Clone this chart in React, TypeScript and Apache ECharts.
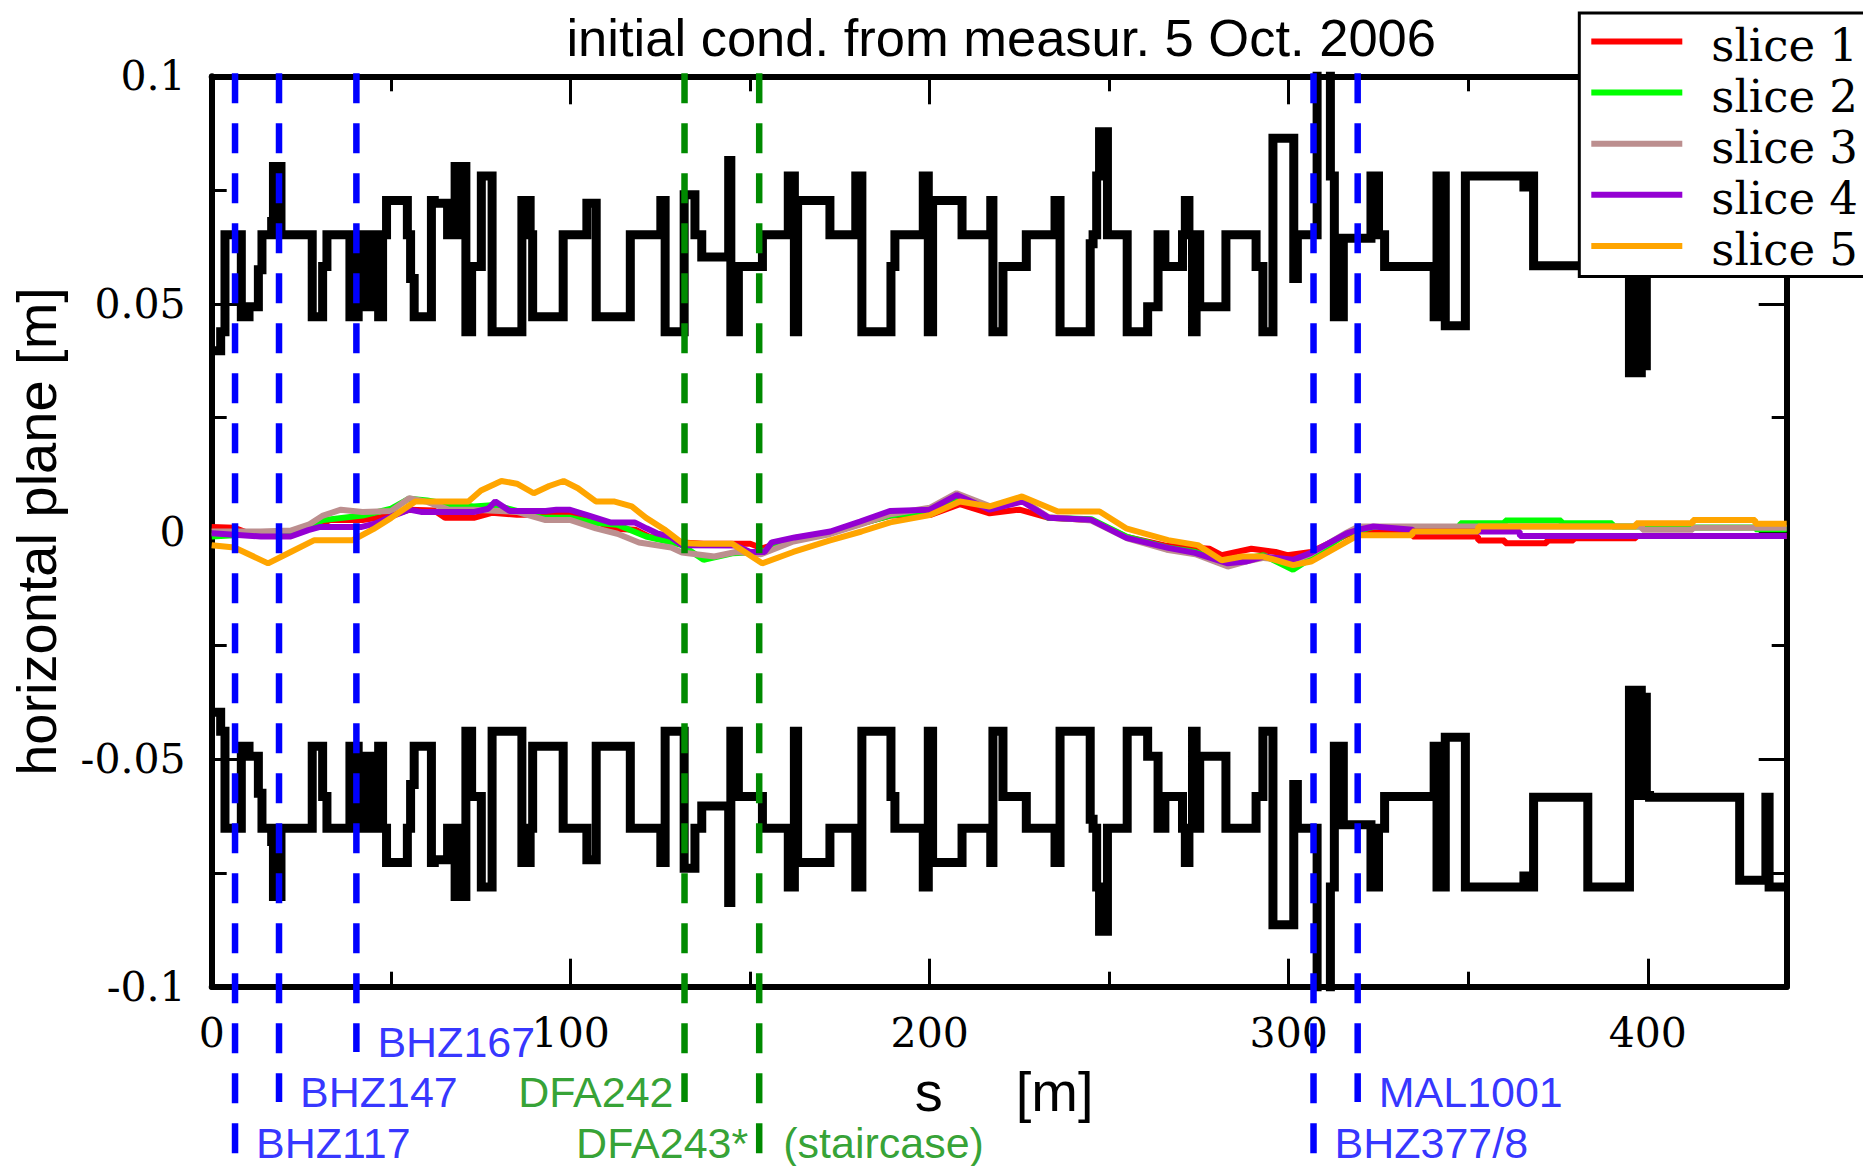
import React, { useEffect, useRef } from "react";
import * as echarts from "echarts";

// ---------------- data ----------------
const S_MAX = 438.7;
const xMajorInterval = 100;
const xMinorInterval = 50;
const yMin = -0.1;
const yMax = 0.1;
const yMajorInterval = 0.05;
const yMinorInterval = 0.025;

const titleText = "initial cond. from measur. 5 Oct. 2006";
const xAxisName = "s";
const xAxisUnit = "[m]";
const yAxisName = "horizontal plane [m]";

const sliceNames = ["slice 1", "slice 2", "slice 3", "slice 4", "slice 5"];
const sliceColors = ["#ff0000", "#00ff00", "#bc8f8f", "#9400d3", "#ffa500"];

const slice1 = [[0,0.001],[6.3,0.0008],[10,-0.0003],[22,-0.0003],[27,0.0008],[31,0.0018],[33,0.0025],[42,0.0025],[50,0.0035],[55,0.0048],[62,0.0046],[65,0.003],[73,0.003],[78,0.0041],[85,0.0037],[99,0.0037],[107,0.0022],[112,0.0006],[118,0.0004],[122,-0.0012],[128,-0.0014],[131,-0.0024],[137,-0.0027],[150,-0.0027],[153.3,-0.0037],[162,-0.0015],[172,-0.0004],[181,0.0018],[189,0.0035],[200,0.0036],[208.4,0.006],[216.7,0.004],[225,0.0048],[233.2,0.003],[245,0.0025],[254.8,-0.0012],[266.4,-0.0032],[278,-0.0038],[281.3,-0.0052],[289.6,-0.0038],[296.3,-0.0045],[299.6,-0.0052],[306.2,-0.0045],[316.2,-0.0007],[319.5,0],[334.4,0],[334.5,-0.0011],[352.7,-0.0011],[352.8,-0.002],[360.2,-0.002],[360.3,-0.0026],[371.8,-0.0026],[371.9,-0.002],[379.3,-0.002],[379.4,-0.0015],[396.7,-0.0015],[396.8,-0.001],[438.7,-0.001]];

const slice2 = [[0,-0.0011],[6.3,-0.0008],[13.7,-0.0005],[22,0],[27,0.0011],[31,0.0025],[42,0.0035],[50,0.005],[55,0.0072],[60,0.0068],[66,0.006],[73,0.0055],[79,0.0058],[85,0.0045],[92,0.003],[100,0.003],[106,0.002],[113,0.0015],[121,-0.0011],[128,-0.0024],[131,-0.003],[137,-0.0062],[145,-0.0048],[153,-0.0045],[162,-0.0018],[172,-0.0004],[181,0.0018],[189,0.0035],[200,0.0045],[208,0.0075],[217,0.005],[226,0.0068],[233,0.003],[245,0.0027],[255,-0.0012],[266,-0.0035],[274,-0.0045],[283,-0.0068],[288,-0.006],[293,-0.0052],[301.2,-0.0084],[306,-0.006],[316,-0.0005],[323.6,0.001],[347.7,0.001],[347.8,0.0018],[360.2,0.0018],[360.3,0.0024],[375.9,0.0024],[376,0.0018],[390.1,0.0018],[390.2,0.0011],[412.5,0.0011],[412.6,0.0009],[429.9,0.0009],[430,0.0005],[438.7,0.0005]];

const slice3 = [[0,0],[13.7,0],[22,0.0002],[27,0.0015],[31,0.0035],[36,0.0048],[42,0.0043],[50,0.0045],[55,0.0073],[60,0.0065],[66,0.0048],[73,0.0048],[85,0.0043],[93,0.0025],[100,0.0025],[107,0.0007],[113,-0.0005],[119,-0.0024],[128,-0.0035],[131,-0.0046],[140,-0.0055],[146,-0.0045],[153,-0.005],[162,-0.0022],[172,-0.0006],[181,0.0016],[189,0.0038],[200,0.0052],[207.5,0.0084],[217,0.0055],[226,0.0068],[233,0.0032],[245,0.0024],[255,-0.0015],[266,-0.004],[274,-0.005],[283,-0.0077],[288,-0.0066],[293,-0.0058],[301,-0.0065],[306,-0.005],[316,-0.0003],[319.5,0.0011],[398.4,0.0011],[398.5,0.0004],[412.5,0.0004],[412.6,0.0008],[438.7,0.0008]];

const slice4 = [[0,-0.0004],[6.3,-0.0007],[13.7,-0.0011],[22,-0.0011],[26.9,0.0003],[30.2,0.001],[41.8,0.001],[45.7,0.0018],[51,0.0036],[55,0.0048],[58.3,0.0043],[73.2,0.0043],[77,0.005],[79,0.0066],[83,0.0045],[93,0.0045],[96,0.0048],[99.6,0.0048],[104.6,0.0036],[111,0.002],[117.8,0.002],[121.1,0.0007],[124,-0.0004],[127.7,-0.0011],[131,-0.003],[145.9,-0.0031],[150,-0.0045],[154,-0.0045],[156,-0.0024],[162.4,-0.0013],[172.3,0],[180.6,0.0022],[188.9,0.0045],[200,0.0048],[207.5,0.008],[216.7,0.0048],[225.8,0.0066],[233.2,0.003],[244.8,0.0026],[254.8,-0.0014],[266.4,-0.0036],[273.9,-0.0047],[283,-0.007],[288,-0.0066],[293,-0.0055],[301.2,-0.0062],[306.2,-0.0047],[316.2,-0.0004],[319.5,0.0004],[323.6,0.0011],[334.4,0.0004],[335,0],[364.3,0],[364.4,-0.001],[438.7,-0.001]];

const slice5 = [[0,-0.003],[6.3,-0.0035],[15.7,-0.007],[22,-0.0045],[28.6,-0.0019],[39.3,-0.0019],[45,0.0005],[50,0.003],[56.7,0.0066],[71.5,0.0066],[75,0.009],[80.7,0.0111],[85,0.0105],[89.7,0.0084],[94,0.01],[98,0.0111],[102,0.0095],[107,0.0066],[112,0.0066],[117,0.0055],[121,0.003],[126,0.0005],[131,-0.0025],[136,-0.0027],[145,-0.0027],[153.3,-0.007],[162,-0.0045],[172,-0.002],[181,0],[189,0.002],[200,0.0036],[208.4,0.0066],[216.7,0.0055],[225.7,0.0077],[235.7,0.0044],[247.3,0.0044],[254.7,0.0007],[266.4,-0.0019],[274.7,-0.003],[281.3,-0.0063],[287,-0.0055],[292.9,-0.0055],[301.2,-0.0074],[306.2,-0.0066],[319.4,-0.0008],[334.4,-0.0008],[334.5,0],[352.7,0],[352.8,0.0011],[396.7,0.0011],[396.8,0.0018],[412.5,0.0018],[412.6,0.0025],[429.9,0.0025],[430,0.0017],[438.7,0.0017]];

const sliceData = [slice1, slice2, slice3, slice4, slice5];

// half aperture (step function: value holds from s until next s); drawn as +/- envelope
const apertureHalf = [
  [0,0.0397],[2.5,0.0439],[3.7,0.0652],[8.25,0.0472],[10.4,0.0494],[13.0,0.0575],[14.0,0.0652],
  [16.7,0.0681],[17.2,0.0802],[19.3,0.0652],[28.0,0.0472],[30.9,0.0582],[32.1,0.0652],[38.5,0.0472],
  [40.8,0.0652],[43.3,0.0494],[45.5,0.0652],[46.5,0.0472],[47.6,0.0652],[48.7,0.0727],[54.5,0.0652],
  [55.4,0.0556],[56.4,0.0472],[61.2,0.0727],[62.0,0.0721],[65.7,0.0652],[67.8,0.0802],[69.0,0.0652],
  [69.8,0.0802],[70.8,0.0439],[72.4,0.0582],[75.1,0.0781],[78.1,0.0439],[86.4,0.0727],[88.7,0.0652],
  [89.4,0.0472],[97.9,0.0652],[104.5,0.0721],[107.1,0.0472],[116.6,0.0652],[125.1,0.0727],[126.3,0.0439],
  [131.6,0.074],[134.6,0.0652],[136.5,0.0603],[144.0,0.0815],[144.6,0.0439],[146.7,0.0582],[153.4,0.0652],
  [160.6,0.0781],[162.3,0.0439],[163.2,0.0727],[172.2,0.0652],[179.4,0.0781],[181.1,0.0439],[189.2,0.0582],
  [190.3,0.0652],[198.2,0.0781],[199.6,0.0439],[200.8,0.0727],[209.0,0.0652],[217.0,0.0727],[217.6,0.0439],
  [220.4,0.0582],[226.9,0.0652],[234.9,0.0727],[236.3,0.0439],[244.7,0.0632],[245.5,0.0652],[246.5,0.0781],
  [247.3,0.0878],[249.5,0.0652],[255.0,0.0439],[260.7,0.0494],[263.6,0.0652],[265.5,0.0582],[270.4,0.0652],
  [271.2,0.0727],[272.2,0.0652],[273.2,0.0439],[274.2,0.0652],[275.2,0.0494],[282.5,0.0652],[290.9,0.0582],
  [292.8,0.0439],[295.6,0.0864],[301.4,0.0556],[302.4,0.0652],[307.9,0.115],[311.6,0.0781],[312.7,0.0472],
  [315.2,0.0644],[322.9,0.0781],[325.0,0.0652],[326.7,0.0582],[340.5,0.0472],[341.3,0.0781],[343.6,0.0452],
  [349.2,0.0781],[365.5,0.0757],[367.5,0.0781],[368.2,0.0584],[383.3,0.0781],[394.9,0.0349],[396.2,0.058],
  [396.9,0.0349],[398.2,0.058],[398.8,0.0364],[399.6,0.058],[400.5,0.0584],[425.6,0.0766],[432.9,0.0584],
  [433.8,0.0781],[438.7,0.0781]
];

// element markers: position s, label, colour group, label row, label side
const markerS = [6.5, 18.75, 40.3, 131.7, 152.5, 306.9, 319.2];
const markerLabels = ["BHZ117", "BHZ147", "BHZ167", "DFA242", "DFA243*", "BHZ377/8", "MAL1001"];
const markerGroup = ["blue", "blue", "blue", "green", "green", "blue", "blue"];
const markerRow = [2, 1, 0, 1, 2, 2, 1];
const markerSide = ["right", "right", "right", "left", "left", "right", "right"];
const extraLabelS = [152.5];
const extraLabels = ["(staircase)"];
const extraLabelRow = [2];

// ---------------- layout / style ----------------
const W = 1863;
const H = 1166;
const GRID = { left: 211.7, right: 76.3, top: 76.3, bottom: 179.3 };
const MARK_TOP = 73.3;
const MARK_BOTTOM = 1153.3;
const rowDepth = [978.7, 1028.7, 1080];
const rowLabelOffset = 10;
const groupColor: Record<string, string> = { blue: "#0000ff", green: "#008a00" };
const SANS = "'Liberation Sans', Arial, sans-serif";
const SERIF = "'DejaVu Serif', serif";
const APERTURE_WIDTH = 9;
const SLICE_WIDTH = 6;

function buildOption() {
  const axisBase = {
    type: "value" as const,
    splitLine: { show: false },
  };
  const tickStyle = { color: "#000", width: 3 };
  const xCommon = { ...axisBase, gridIndex: 0, min: 0, max: S_MAX };
  const yCommon = { ...axisBase, gridIndex: 0, min: yMin, max: yMax };

  const xAxes: any[] = [
    {
      ...xCommon, position: "bottom", interval: xMajorInterval,
      axisLine: { show: true, onZero: false, lineStyle: { color: "#000", width: 6 } },
      axisTick: { show: true, inside: true, length: 28, lineStyle: tickStyle },
      axisLabel: { show: true, margin: 26, fontFamily: SERIF, fontSize: 41, color: "#000", showMaxLabel: false },
      name: `{g0| }{a|${xAxisName}}{g| }{a|${xAxisUnit}}`,
      nameLocation: "middle", nameGap: 77,
      nameTextStyle: {
        rich: {
          a: { fontFamily: SANS, fontSize: 56, color: "#000" },
          g: { width: 73, fontSize: 56 },
          g0: { width: 10, fontSize: 56 },
        },
      },
    },
    {
      ...xCommon, position: "bottom", interval: xMinorInterval,
      axisLine: { show: false, onZero: false },
      axisTick: { show: true, inside: true, length: 15, lineStyle: tickStyle },
      axisLabel: { show: false },
    },
    {
      ...xCommon, position: "top", interval: xMajorInterval,
      axisLine: { show: true, onZero: false, lineStyle: { color: "#000", width: 6 } },
      axisTick: { show: true, inside: true, length: 28, lineStyle: tickStyle },
      axisLabel: { show: false },
    },
    {
      ...xCommon, position: "top", interval: xMinorInterval,
      axisLine: { show: false, onZero: false },
      axisTick: { show: true, inside: true, length: 15, lineStyle: tickStyle },
      axisLabel: { show: false },
    },
    { type: "value", gridIndex: 1, min: 0, max: S_MAX, show: false },
  ];

  const yAxes: any[] = [
    {
      ...yCommon, position: "left", interval: yMajorInterval,
      axisLine: { show: true, onZero: false, lineStyle: { color: "#000", width: 6 } },
      axisTick: { show: true, inside: true, length: 28, lineStyle: tickStyle },
      axisLabel: {
        show: true, margin: 26, fontFamily: SERIF, fontSize: 41, color: "#000",
        formatter: (v: number) => {
          const r = Math.round(v * 1000) / 1000;
          return r === 0 ? "0" : String(r);
        },
      },
      name: yAxisName, nameLocation: "middle", nameGap: 147,
      nameTextStyle: { fontFamily: SANS, fontSize: 56, color: "#000" },
    },
    {
      ...yCommon, position: "left", interval: yMinorInterval,
      axisLine: { show: false, onZero: false },
      axisTick: { show: true, inside: true, length: 15, lineStyle: tickStyle },
      axisLabel: { show: false },
    },
    {
      ...yCommon, position: "right", interval: yMajorInterval,
      axisLine: { show: true, onZero: false, lineStyle: { color: "#000", width: 6 } },
      axisTick: { show: true, inside: true, length: 28, lineStyle: tickStyle },
      axisLabel: { show: false },
    },
    {
      ...yCommon, position: "right", interval: yMinorInterval,
      axisLine: { show: false, onZero: false },
      axisTick: { show: true, inside: true, length: 15, lineStyle: tickStyle },
      axisLabel: { show: false },
    },
    { type: "value", gridIndex: 1, min: 0, max: MARK_BOTTOM - MARK_TOP, inverse: true, show: false },
  ];

  const series: any[] = [];

  // aperture envelope
  series.push({
    type: "line", name: "aperture+", xAxisIndex: 0, yAxisIndex: 0, step: "end",
    data: apertureHalf.map(([s, a]) => [s, a]),
    symbol: "none", lineStyle: { color: "#000", width: APERTURE_WIDTH, join: "miter" }, z: 2, silent: true,
  });
  series.push({
    type: "line", name: "aperture-", xAxisIndex: 0, yAxisIndex: 0, step: "end",
    data: apertureHalf.map(([s, a]) => [s, -a]),
    symbol: "none", lineStyle: { color: "#000", width: APERTURE_WIDTH, join: "miter" }, z: 2, silent: true,
  });

  // slices
  sliceData.forEach((d, i) => {
    series.push({
      type: "line", name: sliceNames[i], xAxisIndex: 0, yAxisIndex: 0,
      data: d, symbol: "none", showSymbol: false,
      lineStyle: { color: sliceColors[i], width: SLICE_WIDTH },
      itemStyle: { color: sliceColors[i] },
      z: 3, silent: true,
    });
  });

  // dashed marker lines
  markerS.forEach((s, i) => {
    const depth = rowDepth[markerRow[i]];
    series.push({
      type: "line", name: "m" + i, xAxisIndex: 4, yAxisIndex: 4,
      data: [[s, 0], [s, depth]], symbol: "none", silent: true, clip: false,
      lineStyle: { color: groupColor[markerGroup[i]], width: 6.5, type: [30, 20], cap: "butt" },
      z: 10,
    });
  });

  // marker labels
  const labelStyle = { fontFamily: SANS, fontSize: 43, lineHeight: 40 };
  const labelData: any[] = markerS.map((s, i) => ({
    value: [s, rowDepth[markerRow[i]] - rowLabelOffset],
    label: {
      show: true, formatter: markerLabels[i],
      position: markerSide[i] === "right" ? "right" : "left",
      distance: markerSide[i] === "right" ? 21 : 11,
      color: groupColor[markerGroup[i]], ...labelStyle,
    },
  }));
  extraLabelS.forEach((s, i) => {
    labelData.push({
      value: [s, rowDepth[extraLabelRow[i]] - rowLabelOffset],
      label: {
        show: true, formatter: extraLabels[i], position: "right", distance: 24,
        color: groupColor.green, ...labelStyle,
      },
    });
  });
  series.push({
    type: "scatter", name: "labels", xAxisIndex: 4, yAxisIndex: 4,
    data: labelData, symbolSize: 0, silent: true, clip: false, z: 11,
  });

  return {
    animation: false,
    backgroundColor: "#fff",
    grid: [
      { left: GRID.left, right: GRID.right, top: GRID.top, bottom: GRID.bottom },
      { left: GRID.left, right: GRID.right, top: MARK_TOP, bottom: H - MARK_BOTTOM },
    ],
    xAxis: xAxes,
    yAxis: yAxes,
    legend: {
      data: sliceNames, orient: "vertical", left: 1579.3, top: 13,
      icon: "rect", itemWidth: 91, itemHeight: 6, itemGap: 6.1,
      padding: [10, 14, 4, 12],
      borderColor: "#000", borderWidth: 3, backgroundColor: "#fff", borderRadius: 0,
      selectedMode: false,
      formatter: "{t|{name}}",
      textStyle: {
        color: "#000", fontFamily: SERIF, fontSize: 45,
        rich: { t: { fontFamily: SERIF, fontSize: 45, color: "#000", padding: [8, 0, 0, 24] } },
      },
      z: 20,
    },
    graphic: [
      {
        type: "text", x: GRID.left + (W - GRID.left - GRID.right) / 2 + 2, y: 37.5, silent: true,
        style: { text: titleText, fontFamily: SANS, fontSize: 52.5, fill: "#000", textAlign: "center", textVerticalAlign: "middle" },
      },
    ],
    series,
  };
}

export default function App() {
  const ref = useRef<HTMLDivElement>(null);
  useEffect(() => {
    if (!ref.current) return;
    const chart = echarts.init(ref.current, undefined, { renderer: "svg" });
    chart.setOption(buildOption() as any);
    return () => chart.dispose();
  }, []);
  return (
    <div
      ref={ref}
      style={{ position: "fixed", left: 0, top: 0, width: W, height: H, background: "#fff" }}
    />
  );
}
